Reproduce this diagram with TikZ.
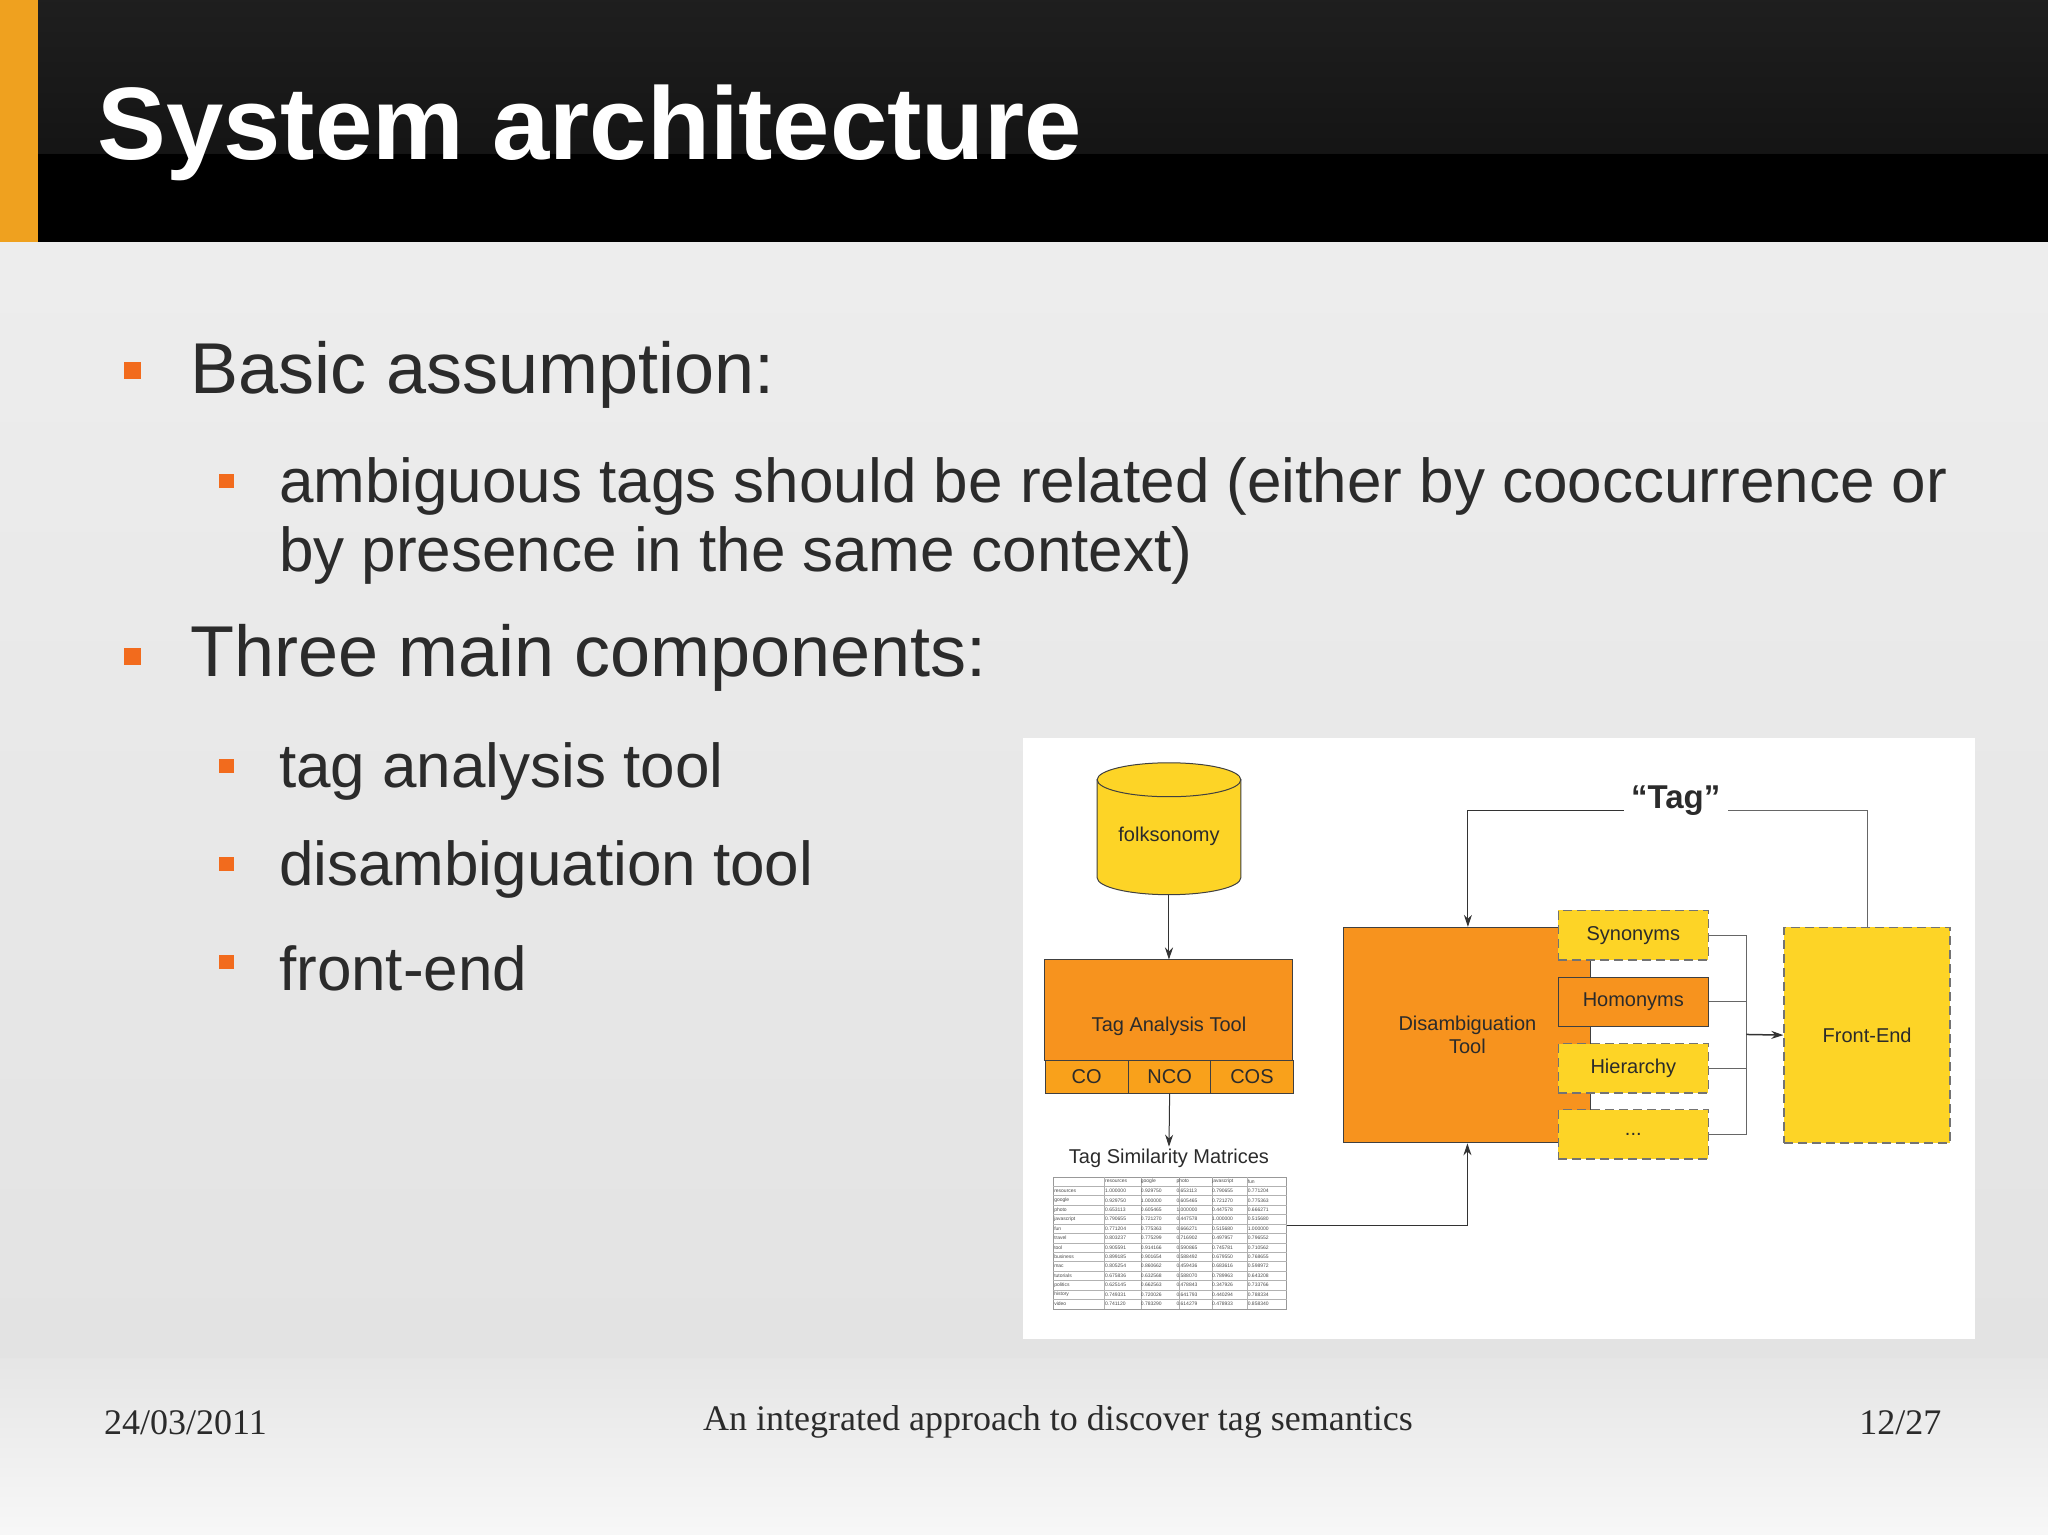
\documentclass[tikz,border=0pt]{standalone}
\usepackage{fontspec}
\setmainfont{Liberation Sans}
\newfontfamily\serifft{Liberation Serif}
\usetikzlibrary{shapes.geometric,arrows.meta}
\definecolor{orng}{HTML}{F7931E}
\definecolor{orng2}{HTML}{F9A11B}
\definecolor{yel}{HTML}{FDD426}
\definecolor{bul}{HTML}{F26B1D}
\definecolor{txt}{HTML}{2B2B2B}
\definecolor{strip}{HTML}{EFA11F}
\tikzset{
  box/.style={draw=black!75,line width=1pt,fill=orng,font=\fontsize{20}{23}\selectfont,text=txt,inner sep=0,align=center},
  dbox/.style={draw=black!55,line width=1.6pt,dash pattern=on 9pt off 5pt,fill=yel,font=\fontsize{20}{23}\selectfont,text=txt,inner sep=0,align=center},
  conn/.style={draw=black!60,line width=1pt},
  arr/.style={conn,-{Stealth[length=12pt,width=8pt]},draw=black!80},
  lone/.style={font=\fontsize{72}{76}\selectfont,text=txt,anchor=west},
  ltwo/.style={font=\fontsize{62}{69}\selectfont,text=txt,anchor=west,align=left},
}
\begin{document}
\begin{tikzpicture}[x=1.30612pt,y=-1.30612pt]
\useasboundingbox (0,0) rectangle (1568,1175);
% background
\shade[top color=black!7,bottom color=black!11] (0,185) rectangle (1568,1040);
\shade[top color=black!10,bottom color=black!3] (0,1040) rectangle (1568,1175);
\shade[top color=black!88,bottom color=black!92] (0,0) rectangle (1568,118);
\fill[black] (0,118) rectangle (1568,185);
\fill[strip] (0,0) rectangle (29,185);
\node[anchor=west,text=white,font=\bfseries\fontsize{103}{110}\selectfont] (title) at (72,102) {System architecture};
% bullets
\foreach \y in {283,502} \fill[bul] (95,277) ++(0,\y-283) rectangle ++(13,13);
\foreach \y in {369,587,662,737} \fill[bul] (168,\y-6) rectangle ++(11,11);
\node[lone] (b1) at (143,287) {Basic assumption:};
\node[lone] (b2) at (143,504) {Three main components:};
\node[ltwo,anchor=north west] (s1) at (211,348) {ambiguous tags should be related (either by cooccurrence or\\by presence in the same context)};
\node[ltwo] (s2) at (211,591) {tag analysis tool};
\node[ltwo] (s3) at (211,666) {disambiguation tool};
\node[ltwo] (s4) at (211,741) {front-end};
% footer
\node[anchor=west,font=\serifft\fontsize{36}{40}\selectfont,text=txt] (f1) at (77,1089) {24/03/2011};
\node[font=\serifft\fontsize{36}{40}\selectfont,text=txt] (f2) at (810,1089) {An integrated approach to discover tag semantics};
\node[anchor=east,font=\serifft\fontsize{36}{40}\selectfont,text=txt] (f3) at (1489,1089) {12/27};
% diagram panel
\fill[white] (783,565) rectangle (1512,1025);
% cylinder
\fill[yel,draw=black!75,line width=1pt] (840,597) -- (840,672) arc[start angle=180,end angle=0,x radius=55,y radius=13] -- (950,597) -- cycle;
\draw[black!75,line width=1pt,fill=yel] (895,597) ellipse[x radius=55,y radius=13];
\node[font=\fontsize{20}{23}\selectfont,text=txt] (folk) at (895,640) {folksonomy};
\coordinate (folkb) at (895,685);
% tag analysis tool
\node[box,minimum width=248pt,minimum height=100.6pt] (tat) at (895,773.5) {};
\node[font=\fontsize{20}{23}\selectfont,text=txt] (tatl) at (895,786) {Tag Analysis Tool};
\node[box,fill=orng2,minimum width=83pt,minimum height=32.6pt] (co) at (832,824.5) {CO};
\node[box,fill=orng2,minimum width=82pt,minimum height=32.6pt] (nco) at (895.5,824.5) {NCO};
\node[box,fill=orng2,minimum width=83pt,minimum height=32.6pt] (cos) at (958.5,824.5) {COS};
\draw[arr] (folkb) -- (tat.north);
\node[font=\fontsize{20}{23}\selectfont,text=txt] (tsm) at (895,887) {Tag Similarity Matrices};
\draw[arr] (nco.south) -- ([yshift=-1pt]tsm.north);
% matrix
\begin{scope}
\fill[white] (806,901) rectangle (985,1002);
\draw[black!40,line width=0.4pt] (806,901) rectangle (985,1002);
\foreach \i in {1,...,13} \draw[black!30,line width=0.3pt] (806,901+\i*7.2) -- (985,901+\i*7.2);
\foreach \xx in {845,874,903,928,955} \draw[black!30,line width=0.3pt] (\xx,901) -- (\xx,1002);
\foreach \n [count=\c] in {resources,google,photo,javascript,fun}
  \node[font=\fontsize{5}{5}\selectfont,text=black!70,anchor=west,inner sep=0] at (846+\c*27.3-27.3,904.6) {\n};
\foreach \n/\a/\b/\cc/\d/\e [count=\r] in {resources/1.000000/0.929750/0.653113/0.790655/0.771204,google/0.929750/1.000000/0.605465/0.721270/0.775363,photo/0.653113/0.605465/1.000000/0.447578/0.666271,javascript/0.790655/0.721270/0.447578/1.000000/0.515680,fun/0.771204/0.775363/0.666271/0.515680/1.000000,travel/0.803237/0.775299/0.716902/0.497957/0.796552,tool/0.905591/0.914166/0.590865/0.745781/0.710562,business/0.899185/0.901654/0.588492/0.679550/0.768655,mac/0.805254/0.860662/0.459436/0.683616/0.598972,tutorials/0.675836/0.632568/0.588070/0.789963/0.643208,politics/0.625145/0.662563/0.478843/0.347926/0.733766,history/0.749331/0.720026/0.641793/0.440294/0.788334,video/0.741120/0.783290/0.614279/0.478933/0.858340}{
  \node[font=\fontsize{5}{5}\selectfont,text=black!70,anchor=west,inner sep=0] at (807,904.6+\r*7.2) {\n};
  \foreach \v [count=\c] in {\a,\b,\cc,\d,\e}
    \node[font=\fontsize{5}{5}\selectfont,text=black!70,anchor=west,inner sep=0] at (846+\c*27.3-27.3,904.6+\r*7.2) {\v};
}
\coordinate (matr) at (985,938);
\end{scope}
% disambiguation
\node[box,minimum width=247pt,minimum height=215.5pt] (dis) at (1123.5,792.5) {Disambiguation\\Tool};
\node[dbox,minimum width=150pt,minimum height=49.6pt] (syn) at (1250.5,716) {Synonyms};
\node[box,minimum width=150pt,minimum height=49.6pt] (hom) at (1250.5,767) {Homonyms};
\node[dbox,minimum width=150pt,minimum height=49.6pt] (hie) at (1250.5,818) {Hierarchy};
\node[dbox,minimum width=150pt,minimum height=49.6pt] (dots) at (1250.5,868.5) {...};
\node[dbox,minimum width=166pt,minimum height=215.5pt] (fe) at (1429.5,792.5) {Front-End};
\coordinate (j) at (1337,792);
\foreach \b in {syn,hom,hie,dots} \draw[conn] (\b.east) -| (j);
\draw[arr,line width=1.5pt] (j) -- (fe.west);
\draw[arr] (matr) -| (dis.south);
\node[font=\bfseries\fontsize{33}{36}\selectfont,text=txt] (tag) at (1283,613) {“Tag”};
\draw[conn] (fe.north) |- ([yshift=-10pt,xshift=4pt]tag.east);
\draw[arr] ([yshift=-10pt,xshift=-4pt]tag.west) -| ([xshift=0.5pt]dis.north);
\end{tikzpicture}
\end{document}
